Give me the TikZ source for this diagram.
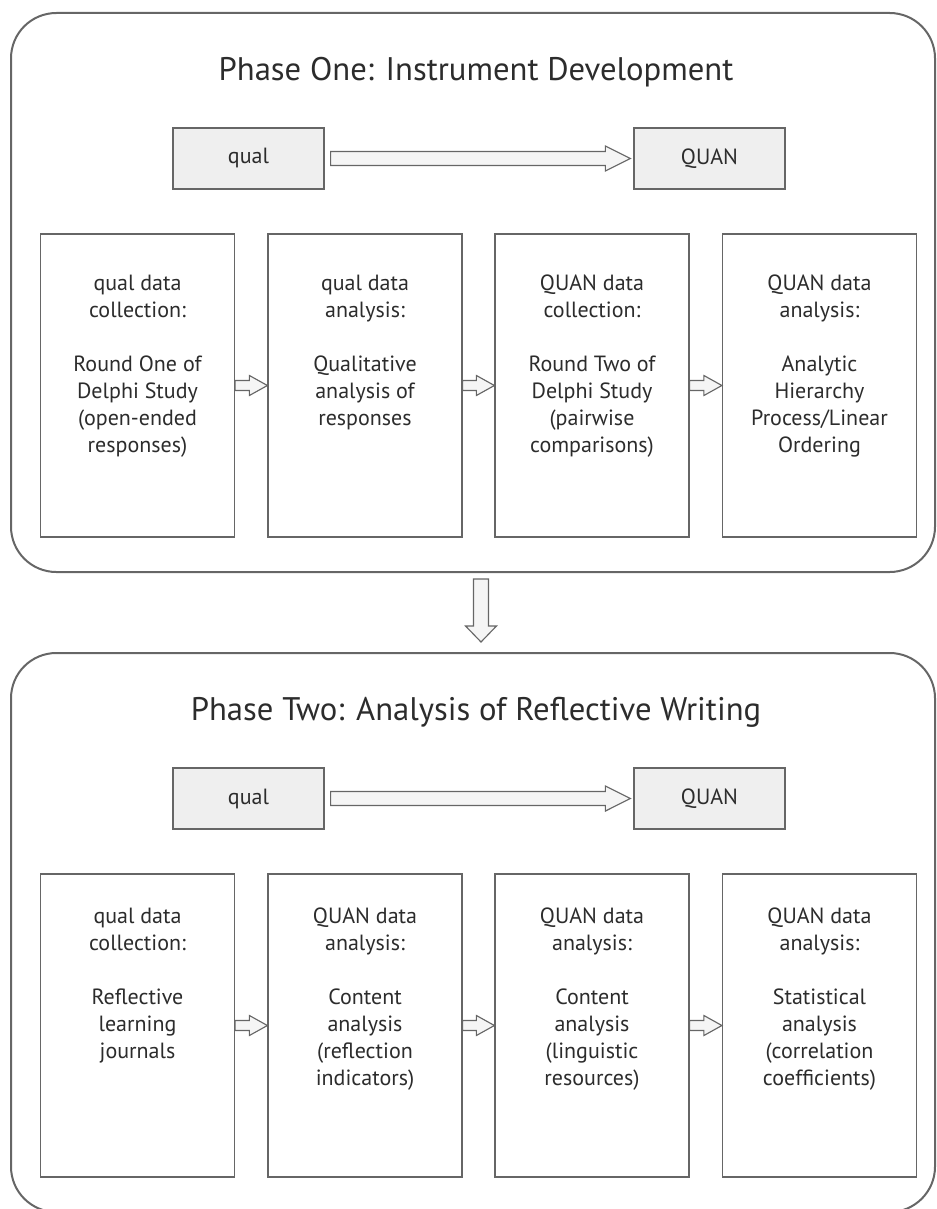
\documentclass[tikz,border=0pt]{standalone}
\usepackage{fontspec}
\setmainfont{PT Sans}
\usetikzlibrary{calc,shadows}

\definecolor{ink}{HTML}{2C2C2C}
\definecolor{edge}{HTML}{666666}
\definecolor{panel}{HTML}{EFEFEF}
\definecolor{arrowfill}{HTML}{F5F5F5}

% horizontal block arrow: start, tip, half shaft, half head, head length
\newcommand\harrow[5]{%
  \draw[blockarrow] let \p1=(#1), \p2=(#2) in
    (\x1,\y1+#3) -- (\x2-#5,\y1+#3) -- (\x2-#5,\y1+#4) -- (\x2,\y1)
    -- (\x2-#5,\y1-#4) -- (\x2-#5,\y1-#3) -- (\x1,\y1-#3) -- cycle;}
% vertical (downward) block arrow: start, tip, half shaft, half head, head length
\newcommand\varrow[5]{%
  \draw[blockarrow] let \p1=(#1), \p2=(#2) in
    (\x1-#3,\y1) -- (\x1-#3,\y2+#5) -- (\x1-#4,\y2+#5) -- (\x1,\y2)
    -- (\x1+#4,\y2+#5) -- (\x1+#3,\y2+#5) -- (\x1+#3,\y1) -- cycle;}

\tikzset{
  phasebox/.style={draw=edge, line width=1.5pt, rounded corners=34pt,
    minimum width=693pt, minimum height=419.25pt, inner sep=0pt},
  phasetitle/.style={text=ink, font=\fontsize{24.5}{28}\selectfont, inner sep=0pt},
  tagbox/.style={draw=edge, fill=panel, line width=0.9pt,
    minimum width=113.25pt, minimum height=45.75pt, inner sep=0pt,
    text=ink, font=\fontsize{16.5}{20.25}\selectfont,
    drop shadow={shadow xshift=0.6pt, shadow yshift=-0.9pt, fill=black, opacity=0.35}},
  stagebox/.style={draw=edge, fill=white, line width=0.9pt,
    minimum width=145.5pt, minimum height=227.25pt, inner sep=0pt,
    drop shadow={shadow xshift=0.5pt, shadow yshift=-0.9pt, fill=black, opacity=0.3}},
  stagetext/.style={anchor=north, align=center, inner sep=0pt, text=ink,
    font=\fontsize{16.5}{20.25}\selectfont},
  blockarrow/.style={draw=edge, fill=arrowfill, line width=0.85pt, line join=miter},
}

\begin{document}
\begin{tikzpicture}[x=0.75pt, y=-0.75pt]
\useasboundingbox (0,0) rectangle (937,1209);

% ---------------- Phase One ----------------
\node[phasebox] (p1) at (473,292.5) {};
\node[phasetitle] (t1) at (476,72) {Phase One: Instrument Development};
\node[tagbox] (ql1) at (248.5,158.5) {qual};
\node[tagbox] (qn1) at (709.5,158.5) {QUAN};

\node[stagebox] (a1) at (137.5,385.5) {};
\node[stagebox] (a2) at (365,385.5) {};
\node[stagebox] (a3) at (592,385.5) {};
\node[stagebox] (a4) at (819.5,385.5) {};

\node[stagetext] (ta1) at ($(a1.north)+(0,41)$) {qual data\\collection:\\[20.25pt]Round One of\\Delphi Study\\(open-ended\\responses)};
\node[stagetext] (ta2) at ($(a2.north)+(0,41)$) {qual data\\analysis:\\[20.25pt]Qualitative\\analysis of\\responses};
\node[stagetext] (ta3) at ($(a3.north)+(0,41)$) {QUAN data\\collection:\\[20.25pt]Round Two of\\Delphi Study\\(pairwise\\comparisons)};
\node[stagetext] (ta4) at ($(a4.north)+(0,41)$) {QUAN data\\analysis:\\[20.25pt]Analytic\\Hierarchy\\Process/Linear\\Ordering};

\coordinate (s1) at ($(ql1.east)+(6,0)$);
\coordinate (e1) at ($(qn1.west)+(-3,0)$);
\harrow{s1}{e1}{5.25pt}{9.4pt}{18.75pt}
\harrow{a1.east}{a2.west}{3.75pt}{7.5pt}{13.5pt}
\harrow{a2.east}{a3.west}{3.75pt}{7.5pt}{13.5pt}
\harrow{a3.east}{a4.west}{3.75pt}{7.5pt}{13.5pt}

% ---------------- Phase Two ----------------
\node[phasebox] (p2) at (473,932.5) {};
\node[phasetitle] (t2) at (476,712) {Phase Two: Analysis of Reflective Writing};
\node[tagbox] (ql2) at (248.5,798.5) {qual};
\node[tagbox] (qn2) at (709.5,798.5) {QUAN};

\node[stagebox] (b1) at (137.5,1025.5) {};
\node[stagebox] (b2) at (365,1025.5) {};
\node[stagebox] (b3) at (592,1025.5) {};
\node[stagebox] (b4) at (819.5,1025.5) {};

\node[stagetext] (tb1) at ($(b1.north)+(0,34)$) {qual data\\collection:\\[20.25pt]Reflective\\learning\\journals};
\node[stagetext] (tb2) at ($(b2.north)+(0,34)$) {QUAN data\\analysis:\\[20.25pt]Content\\analysis\\(reflection\\indicators)};
\node[stagetext] (tb3) at ($(b3.north)+(0,34)$) {QUAN data\\analysis:\\[20.25pt]Content\\analysis\\(linguistic\\resources)};
\node[stagetext] (tb4) at ($(b4.north)+(0,34)$) {QUAN data\\analysis:\\[20.25pt]Statistical\\analysis\\(correlation\\coefficients)};

\coordinate (s2) at ($(ql2.east)+(6,0)$);
\coordinate (e2) at ($(qn2.west)+(-3,0)$);
\harrow{s2}{e2}{5.25pt}{9.4pt}{18.75pt}
\harrow{b1.east}{b2.west}{3.75pt}{7.5pt}{13.5pt}
\harrow{b2.east}{b3.west}{3.75pt}{7.5pt}{13.5pt}
\harrow{b3.east}{b4.west}{3.75pt}{7.5pt}{13.5pt}

% ---------------- link between phases ----------------
\coordinate (d1) at ($(p1.south)+(8,6)$);
\coordinate (d2) at ($(p2.north)+(8,-10)$);
\varrow{d1}{d2}{5.6pt}{11.6pt}{12pt}
\end{tikzpicture}
\end{document}
